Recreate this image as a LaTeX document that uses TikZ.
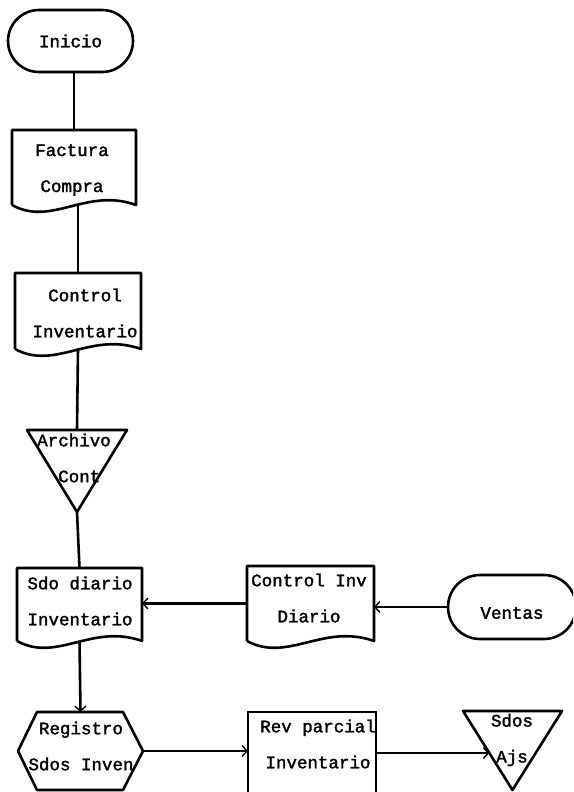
\documentclass[tikz,border=0pt]{standalone}
\usepackage{fontspec}
\newfontfamily\tw[FakeBold=1.8]{Liberation Mono}
\usetikzlibrary{shapes.misc,arrows.meta,calc}

% document symbol: straight top and sides, wavy bottom edge
\newcommand\docoutline[1]{%
  \draw[shapeline] (#1.south west) -- (#1.north west) -- (#1.north east) -- (#1.south east)
    .. controls ($(#1.south east)!0.4!(#1.south west)+(0,-18)$)
            and ($(#1.south east)!0.68!(#1.south west)+(0,22)$) .. (#1.south west);}

\begin{document}
\begin{tikzpicture}[x=1pt,y=-1pt,
  every node/.style={inner sep=0pt,outer sep=0pt},
  shapeline/.style={line width=2.6pt,line join=round},
  frame/.style 2 args={rectangle,draw=none,minimum width=#1pt,minimum height=#2pt},
  terminal/.style 2 args={rounded rectangle,draw,line width=2.6pt,minimum width=#1pt,minimum height=#2pt},
  txt/.style={font=\tw\fontsize{17.5}{36}\selectfont,align=center},
  conn/.style={line width=2.6pt},
  flow/.style={line width=2.6pt,-{Straight Barb[length=5pt,width=11pt,line width=1.4pt]}}]

\useasboundingbox (0,0) rectangle (573,792);
\clip (0,0) rectangle (573,792);

% ---- shapes ----
\node[terminal={125}{62},txt] (inicio) at (70.5,41) {Inicio};

\node[frame={124}{75}] (factura) at (74,167.5) {};
\docoutline{factura}
\node[txt] (factura-t) at (72,170) {Factura\\Compra};

\node[frame={126}{76}] (control) at (78,311) {};
\docoutline{control}
\node[txt] (control-t) at (85,313) {Control\\Inventario};

\node[frame={100}{82}] (archivo) at (77,471) {};
\draw[shapeline] (archivo.north west) -- (archivo.north east) -- (archivo.south) -- cycle;
\node[txt] (archivo-t) at (74,458) {Archivo\\\phantom{x}Cont};

\node[frame={125}{73}] (sdo) at (79.5,604.5) {};
\docoutline{sdo}
\node[txt] (sdo-t) at (80,601) {Sdo diario\\Inventario};

\node[frame={127}{75}] (ctrlinv) at (310.5,603.5) {};
\docoutline{ctrlinv}
\node[txt] (ctrlinv-t) at (309,598) {Control Inv\\Diario};

\node[terminal={128}{64}] (ventas) at (512,607) {};
\node[txt] (ventas-t) at (512,613) {Ventas};

\node[frame={125}{78}] (registro) at (80.5,751) {};
\draw[shapeline] (registro.west) -- ($(registro.north west)+(19,0)$) -- ($(registro.north east)+(-20,0)$)
  -- (registro.east) -- ($(registro.south east)+(-20,0)$) -- ($(registro.south west)+(19,0)$) -- cycle;
\node[txt] (registro-t) at (81,746) {Registro\\Sdos Inven};

\node[frame={128}{82},draw,line width=2.6pt] (rev) at (312,753) {};
\node[txt] (rev-t) at (318,744) {Rev parcial\\Inventario};

\node[frame={99}{79}] (sdosajs) at (512.5,750.5) {};
\draw[shapeline] (sdosajs.north west) -- (sdosajs.north east) -- (sdosajs.south) -- cycle;
\node[txt] (sdosajs-t) at (512,740) {Sdos\\Ajs};
\coordinate (ajsedge) at ($(sdosajs.north west)!0.53!(sdosajs.south)$);

% ---- connectors ----
\draw[conn] (factura.north |- inicio.south) -- (factura.north);
\draw[conn] (control.north |- factura.south) -- (control.north);
\draw[conn] (control.south) -- (archivo.north);
\draw[conn] (archivo.south) -- (sdo.north);
\draw[flow] (ventas.west) -- (ventas.west -| ctrlinv.east);
\draw[flow] (ctrlinv.west) -- (ctrlinv.west -| sdo.east);
\draw[flow] (sdo.south) -- (registro.north);
\draw[flow] (registro.east) -- (registro.east -| rev.west);
\draw[flow] (rev.east) -- (rev.east -| ajsedge);
\end{tikzpicture}
\end{document}
